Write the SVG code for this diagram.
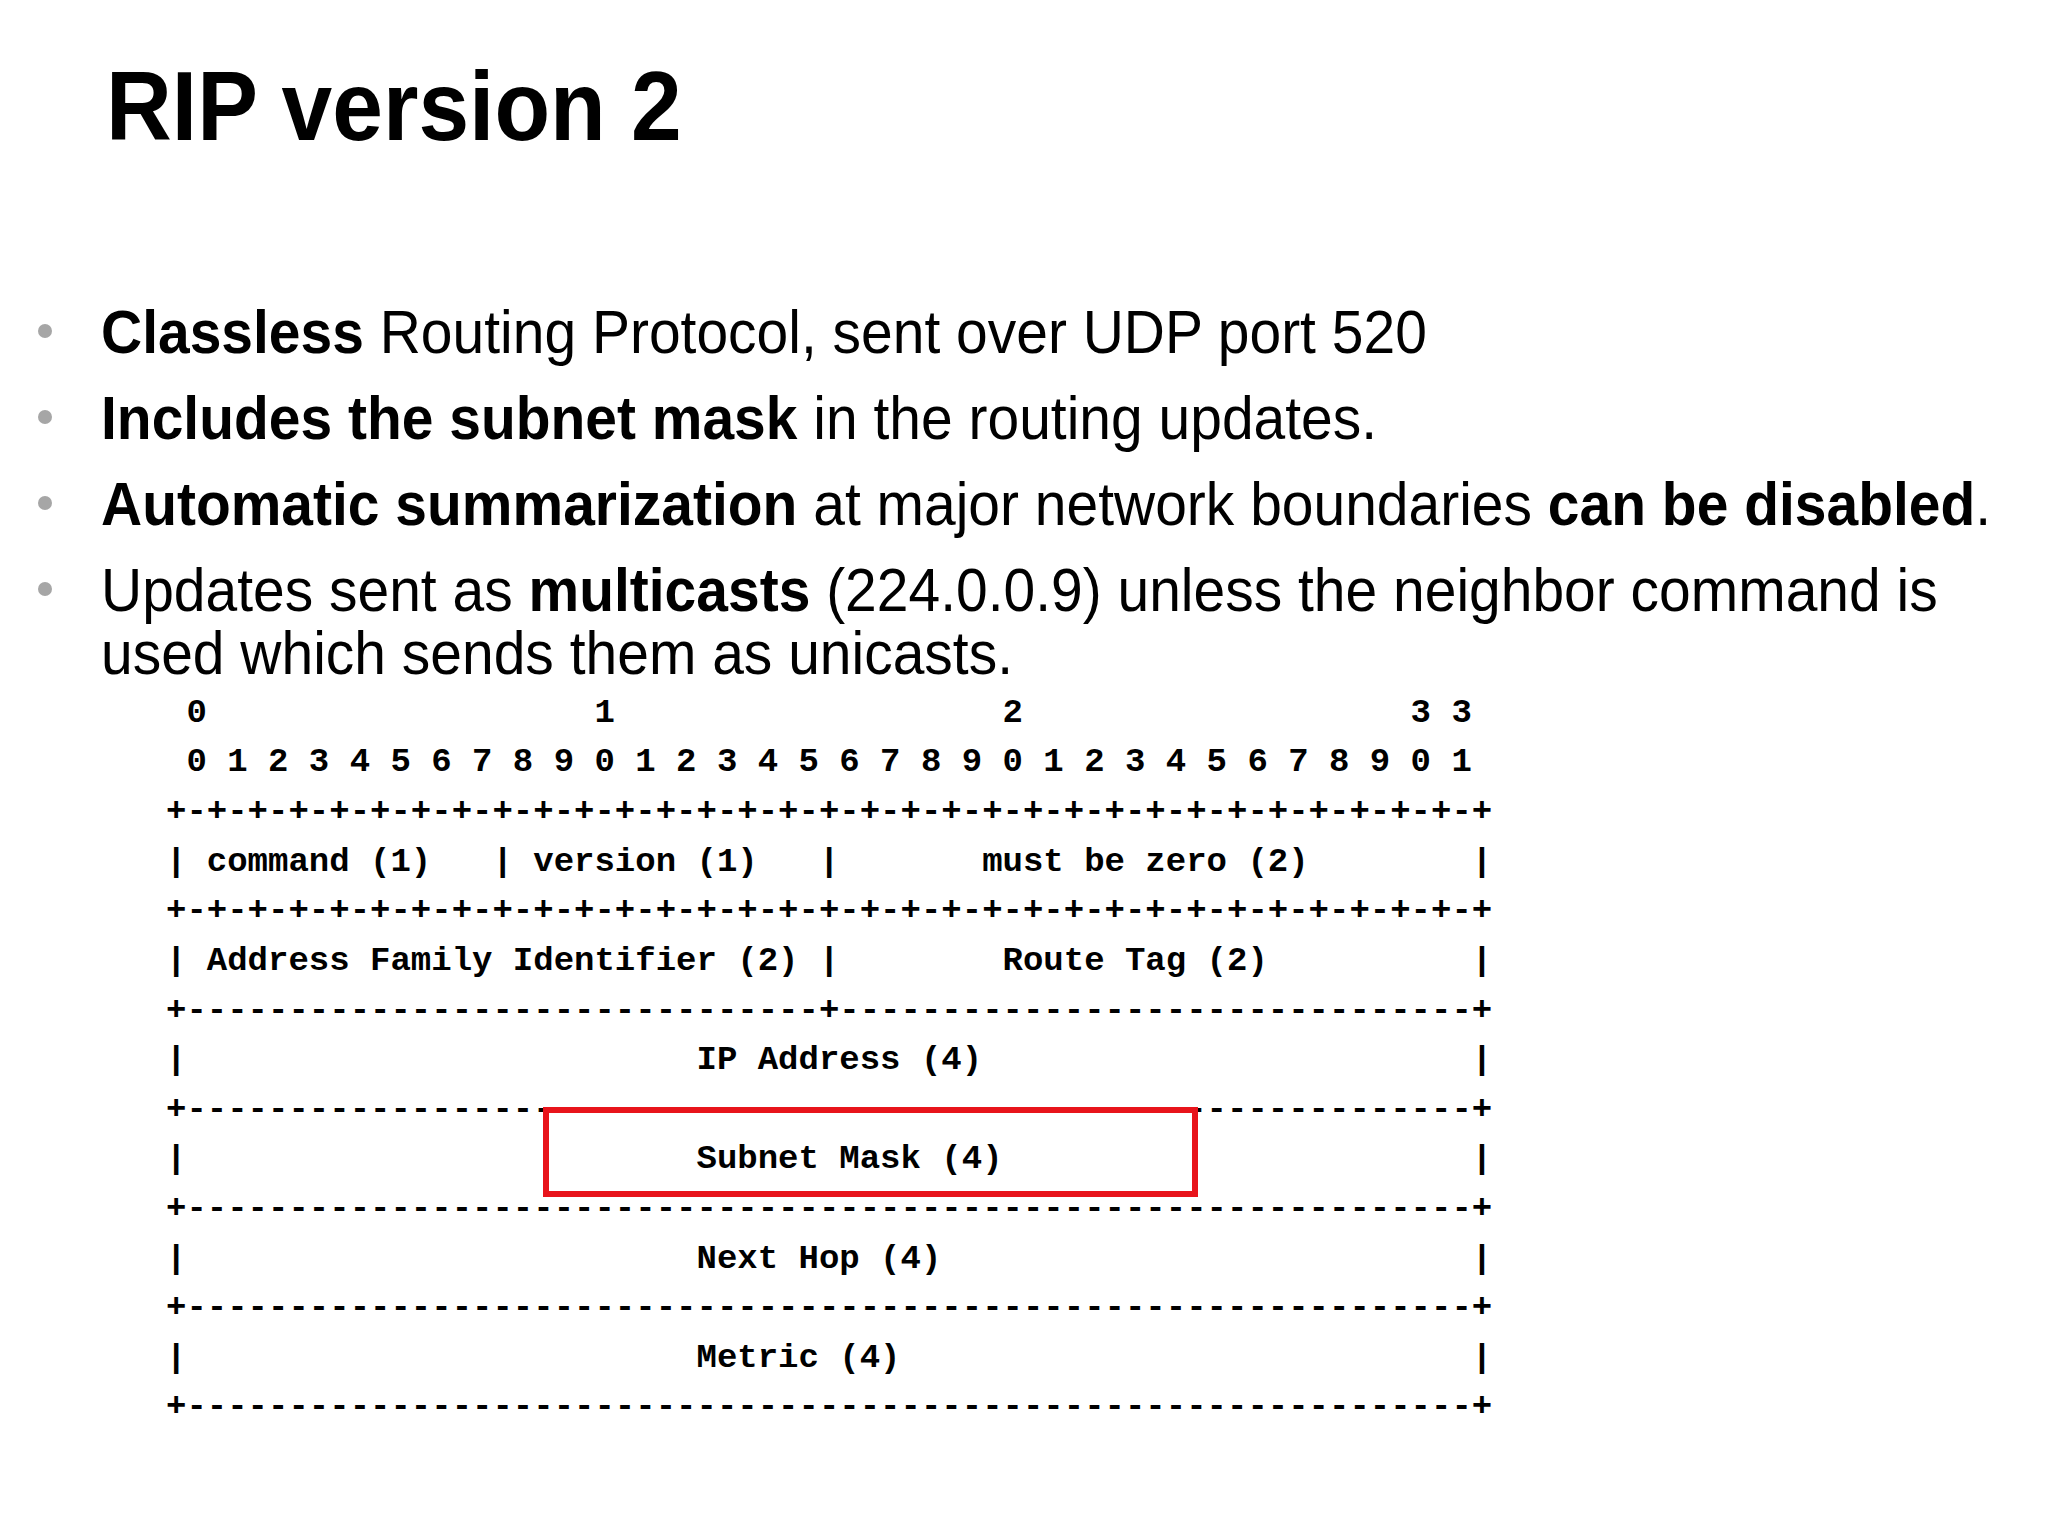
<svg xmlns="http://www.w3.org/2000/svg" width="2048" height="1536" viewBox="0 0 2048 1536">
<style>
.t{font-family:"Liberation Sans",Arial,sans-serif;fill:#000}
.b{font-size:61px}
.m{font-family:"Liberation Mono","Courier New",monospace;font-weight:bold;font-size:34px;white-space:pre;fill:#000}
.dot{fill:#a6a6a6}
</style>
<rect width="2048" height="1536" fill="#fff"/>
<g id="title"><text class="t" transform="translate(106,140) scale(0.93,1)" font-size="98" font-weight="bold">RIP version 2</text></g>
<g id="bullets">
<circle class="dot" cx="45" cy="331" r="7"/>
<circle class="dot" cx="45" cy="417" r="7"/>
<circle class="dot" cx="45" cy="503" r="7"/>
<circle class="dot" cx="45" cy="589" r="7"/>
<g transform="translate(101,0) scale(0.934,1)">
<text class="t b" x="0" y="353"><tspan font-weight="bold">Classless</tspan> Routing Protocol, sent over UDP port 520</text>
<text class="t b" x="0" y="439"><tspan font-weight="bold">Includes the subnet mask</tspan> in the routing updates.</text>
<text class="t b" x="0" y="525"><tspan font-weight="bold">Automatic summarization</tspan> at major network boundaries <tspan font-weight="bold">can be disabled</tspan>.</text>
<text class="t b" x="0" y="611">Updates sent as <tspan font-weight="bold">multicasts</tspan> (224.0.0.9) unless the neighbor command is</text>
<text class="t b" x="0" y="674">used which sends them as unicasts.</text>
</g>
</g>
<g id="packet" xml:space="preserve">
<text class="m" x="166" y="722"> 0                   1                   2                   3 3</text>
<text class="m" x="166" y="771"> 0 1 2 3 4 5 6 7 8 9 0 1 2 3 4 5 6 7 8 9 0 1 2 3 4 5 6 7 8 9 0 1</text>
<text class="m" x="166" y="821">+-+-+-+-+-+-+-+-+-+-+-+-+-+-+-+-+-+-+-+-+-+-+-+-+-+-+-+-+-+-+-+-+</text>
<text class="m" x="166" y="871">| command (1)   | version (1)   |       must be zero (2)        |</text>
<text class="m" x="166" y="920">+-+-+-+-+-+-+-+-+-+-+-+-+-+-+-+-+-+-+-+-+-+-+-+-+-+-+-+-+-+-+-+-+</text>
<text class="m" x="166" y="970">| Address Family Identifier (2) |        Route Tag (2)          |</text>
<text class="m" x="166" y="1020">+-------------------------------+-------------------------------+</text>
<text class="m" x="166" y="1069">|                         IP Address (4)                        |</text>
<text class="m" x="166" y="1119">+---------------------------------------------------------------+</text>
<text class="m" x="166" y="1168">|                         Subnet Mask (4)                       |</text>
<text class="m" x="166" y="1218">+---------------------------------------------------------------+</text>
<text class="m" x="166" y="1268">|                         Next Hop (4)                          |</text>
<text class="m" x="166" y="1317">+---------------------------------------------------------------+</text>
<text class="m" x="166" y="1367">|                         Metric (4)                            |</text>
<text class="m" x="166" y="1416">+---------------------------------------------------------------+</text>
</g>
<g id="highlight"><rect x="546" y="1110" width="649" height="84" fill="none" stroke="#e8141b" stroke-width="6"/></g>
</svg>
